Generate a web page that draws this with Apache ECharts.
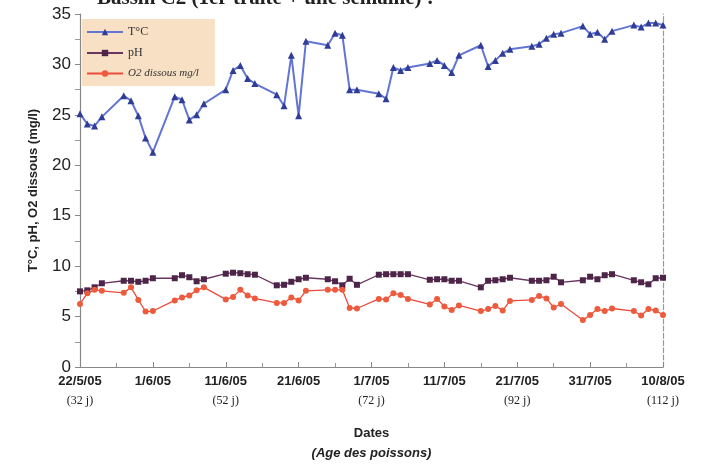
<!DOCTYPE html>
<html><head><meta charset="utf-8">
<script src="https://cdn.jsdelivr.net/npm/echarts@6/dist/echarts.min.js"></script>
<style>html,body{margin:0;padding:0;background:#fff}#c{width:710px;height:466px}</style>
</head><body><div id="c"></div>
<script>
const dates = ['22/5','23/5','24/5','25/5','28/5','29/5','30/5','31/5','1/6','4/6','5/6','6/6','7/6','8/6','11/6','12/6','13/6','14/6','15/6','18/6','19/6','20/6','21/6','22/6','25/6','26/6','27/6','28/6','29/6','2/7','3/7','4/7','5/7','6/7','9/7','10/7','11/7','12/7','13/7','16/7','17/7','18/7','19/7','20/7','23/7','24/7','25/7','26/7','27/7','30/7','31/7','1/8','2/8','3/8','6/8','7/8','8/8','9/8','10/8'];
const temp = [25.1,24.1,23.9,24.8,26.9,26.4,24.9,22.7,21.3,26.8,26.5,24.5,25.0,26.1,27.5,29.4,29.9,28.6,28.1,27.0,25.9,30.9,24.9,32.3,31.9,33.1,32.9,27.5,27.5,27.1,26.6,29.7,29.4,29.7,30.1,30.4,29.9,29.2,30.9,31.9,29.8,30.4,31.1,31.5,31.8,32.0,32.6,33.0,33.1,33.8,33.0,33.2,32.5,33.3,33.9,33.7,34.1,34.1,33.9];
const ph = [7.5,7.6,7.9,8.3,8.55,8.55,8.45,8.55,8.8,8.8,9.1,8.9,8.5,8.7,9.25,9.35,9.3,9.2,9.15,8.1,8.15,8.45,8.7,8.85,8.7,8.5,8.1,8.75,8.15,9.15,9.2,9.2,9.2,9.2,8.65,8.7,8.7,8.55,8.55,7.9,8.55,8.6,8.7,8.85,8.55,8.55,8.6,8.95,8.4,8.6,8.95,8.7,9.1,9.2,8.6,8.4,8.2,8.8,8.85];
const o2 = [6.25,7.3,7.65,7.55,7.35,7.9,6.65,5.5,5.55,6.6,6.9,7.1,7.6,7.9,6.7,6.95,7.65,7.1,6.8,6.35,6.35,6.9,6.6,7.55,7.65,7.65,7.65,5.85,5.8,6.75,6.7,7.3,7.15,6.75,6.2,6.75,6.0,5.65,6.1,5.55,5.75,6.05,5.6,6.55,6.65,7.05,6.8,5.9,6.25,4.65,5.15,5.75,5.55,5.8,5.55,5.1,5.75,5.6,5.15];
const xTickDates = ['22/5/05','1/6/05','11/6/05','21/6/05','1/7/05','11/7/05','21/7/05','31/7/05','10/8/05'];
const xTickAges = ['(32 j)','','(52 j)','','(72 j)','','(92 j)','','(112 j)'];
const yTicks = [0,5,10,15,20,25,30,35];
const seriesNames = ['T°C','pH','O2 dissous mg/l'];

const start = Date.UTC(2005,4,22);
function toDay(s){const p=s.split('/');return Math.round((Date.UTC(2005,+p[1]-1,+p[0])-start)/86400000);}
const days = dates.map(toDay);
const pairs = arr => arr.map((v,i)=>[days[i],v]);

const chart = echarts.init(document.getElementById('c'));
chart.setOption({
  animation:false,
  backgroundColor:'#fff',
  title:{text:'Bassin C2 (1er traité + une semaine) :',left:92,top:-17,
    textStyle:{fontFamily:'Liberation Serif',fontWeight:'bold',fontSize:21,color:'#222'}},
  grid:{left:80,right:47,top:14,bottom:99},
  legend:{orient:'vertical',left:82,top:19,itemGap:9,itemWidth:36,itemHeight:8,
    padding:[7,16,7,4],backgroundColor:'rgba(246,214,176,0.75)',
    textStyle:{fontFamily:'Liberation Serif',fontSize:12,color:'#333'},
    data:[{name:seriesNames[0]},{name:seriesNames[1]},{name:seriesNames[2],textStyle:{fontStyle:'italic',fontSize:11}}]},
  xAxis:{type:'value',min:0,max:80,interval:10,
    name:'{d|Dates}\n{a|(Age des poissons)}',nameLocation:'middle',nameGap:56,
    nameTextStyle:{rich:{d:{fontFamily:'Liberation Sans',fontWeight:'bold',fontSize:13,color:'#222',lineHeight:20},
      a:{fontFamily:'Liberation Sans',fontWeight:'bold',fontStyle:'italic',fontSize:13,color:'#222',lineHeight:20}}},
    axisLine:{lineStyle:{color:'#888',width:1.2}},
    axisTick:{inside:true,length:5,lineStyle:{color:'#888'}},
    minorTick:{show:true,splitNumber:2,length:4,lineStyle:{color:'#999'}},
    splitLine:{show:false},
    axisLabel:{margin:5,formatter:v=>{const i=Math.round(v/10);return '{d|'+xTickDates[i]+'}'+(xTickAges[i]?'\n{a|'+xTickAges[i]+'}':'');},
      rich:{d:{fontFamily:'Liberation Sans',fontWeight:'bold',fontSize:13,color:'#222',lineHeight:19},
        a:{fontFamily:'Liberation Serif',fontSize:12,color:'#222',lineHeight:19}}}},
  yAxis:[{type:'value',min:0,max:35,interval:5,
    name:'T°C, pH, O2 dissous (mg/l)',nameLocation:'middle',nameGap:40,
    nameTextStyle:{fontFamily:'Liberation Sans',fontWeight:'bold',fontSize:13,color:'#222'},
    axisLine:{show:true,lineStyle:{color:'#888',width:1.2}},
    axisTick:{show:true,length:5,lineStyle:{color:'#888'}},
    minorTick:{show:true,splitNumber:2,length:5,lineStyle:{color:'#999'}},
    splitLine:{show:false},
    axisLabel:{margin:9,fontFamily:'Liberation Sans',fontSize:17,color:'#222',formatter:v=>yTicks.includes(v)?String(v):''}},
   {type:'value',min:0,max:35,position:'right',
    axisLine:{show:true,lineStyle:{color:'#999',type:'dashed',width:1.2}},
    axisTick:{show:false},axisLabel:{show:false},splitLine:{show:false}}],
  series:[
    {name:seriesNames[0],type:'line',data:pairs(temp),symbol:'triangle',symbolSize:7,
      lineStyle:{color:'#6275d4',width:2},itemStyle:{color:'#2f3d95'}},
    {name:seriesNames[1],type:'line',data:pairs(ph),symbol:'rect',symbolSize:6,
      lineStyle:{color:'#6a3660',width:1.3},itemStyle:{color:'#4d2548'}},
    {name:seriesNames[2],type:'line',data:pairs(o2),symbol:'circle',symbolSize:6,
      lineStyle:{color:'#ec4a3a',width:1.3},itemStyle:{color:'#ee5a3c'}}
  ]
});
</script></body></html>
